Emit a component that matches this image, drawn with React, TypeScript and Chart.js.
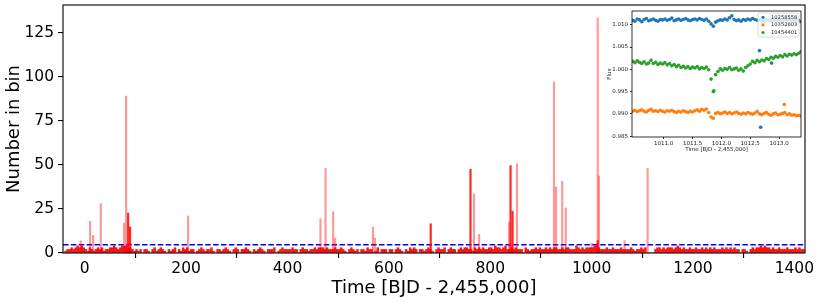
import React, { useEffect, useRef } from "react";
import { Chart, registerables } from "chart.js";
Chart.register(...registerables);

// ---------- main histogram data ----------
const BIN_START = -40;
const BIN_WIDTH = 4;
// counts per 4-day bin, -40 .. 1420
const noiseCounts = [
  "1223234343",
  "2132123231223343234443321",
  "2120221023123210212302132",
  "3122012321223102212321023",
  "2022321021232102223012322",
  "2232202322122323332322232",
  "2321023212022132201302220",
  "2202321021323202212321023",
  "2230232202323322132323223",
  "3243323422323222032122323",
  "2232323322323322243232333",
  "3443222322322232222321223",
  "2300002332323332343232232",
  "2322323232322232323232202",
  "2102323343433232232223222",
  "32322",
].join("");

// tall, pale spikes [time, count]
const spikesLight: [number, number][] = [
  [-8, 7], [10.5, 18], [16.4, 10], [31.6, 28], [77.5, 17], [81.5, 89],
  [203.8, 21], [465, 19.5], [475, 48], [490, 23.5], [494, 8.5],
  [568.6, 14.6], [572.6, 8.5], [768, 33.5], [778, 10.6], [837, 17.6],
  [852.7, 50.6], [925.8, 97], [929.8, 37.5], [942, 40.7], [949, 25.6],
  [1000, 5.7], [1012, 133.5], [1014.6, 43.7], [1065, 7], [1110.5, 48],
];
// darker spikes
const spikesDark: [number, number][] = [
  [85.5, 22.7], [89.4, 14.8], [682.5, 16.6], [761, 47.5], [840, 49.6],
  [844, 23.7], [1012, 7],
];
const THRESHOLD = 4.7;
const xTicks = [0, 200, 400, 600, 800, 1000, 1200, 1400];
const yTicks = [0, 25, 50, 75, 100, 125];

// ---------- inset data ----------
const INSET_T0 = 1010.46;
const INSET_DT = 0.04;
const insetLabels = ["10258558", "10352603", "10454401"];
const fluxBlue = [
  1.0110, 1.0108, 1.0113, 1.0111, 1.0107, 1.0112, 1.0114, 1.0109, 1.0111, 1.0113, 1.0110, 1.0108, 1.0112, 1.0111,
  1.0113, 1.0110, 1.0112, 1.0115, 1.0109, 1.0111, 1.0113, 1.0110, 1.0112, 1.0114, 1.0111, 1.0109, 1.0112,
  1.0113, 1.0111, 1.0114, 1.0112, 1.0110, 1.0113, 1.0108, 1.0102, 1.0097, 1.0106, 1.0109, 1.0111,
  1.0110, 1.0113, 1.0111, 1.0116, 1.0120, 1.0112, 1.0109, 1.0111, 1.0108, 1.0112, 1.0110, 1.0113, 1.0111,
  1.0114, 1.0112, 1.0110, 1.0111, 1.0109, 1.0108, 1.0112, 1.0110, 1.0111, 1.0109, 1.0112, 1.0110,
  1.0111, 1.0109, 1.0112, 1.0110, 1.0113, 1.0111, 1.0109, 1.0112, 1.0110, 1.0107,
];
const fluxOrange = [
  0.9906, 0.9908, 0.9905, 0.9907, 0.9909, 0.9906, 0.9904, 0.9908, 0.9910, 0.9906, 0.9907, 0.9905, 0.9908, 0.9906,
  0.9904, 0.9907, 0.9906, 0.9908, 0.9905, 0.9903, 0.9906, 0.9904, 0.9907, 0.9905, 0.9903, 0.9906, 0.9904,
  0.9907, 0.9909, 0.9906, 0.9910, 0.9908, 0.9911, 0.9903, 0.9893, 0.9890, 0.9901, 0.9903, 0.9900,
  0.9902, 0.9904, 0.9901, 0.9903, 0.9900, 0.9902, 0.9904, 0.9901, 0.9899, 0.9902, 0.9900, 0.9903, 0.9901,
  0.9899, 0.9902, 0.9905, 0.9900, 0.9898, 0.9901, 0.9903, 0.9899, 0.9897, 0.9900, 0.9902, 0.9898,
  0.9899, 0.9901, 0.9903, 0.9898, 0.9900, 0.9897, 0.9898, 0.9896, 0.9897, 0.9895,
];
const fluxGreen = [
  1.0018, 1.0015, 1.0019, 1.0016, 1.0013, 1.0017, 1.0012, 1.0014, 1.0020, 1.0013, 1.0016, 1.0011, 1.0014, 1.0012,
  1.0015, 1.0010, 1.0013, 1.0008, 1.0011, 1.0006, 1.0009, 1.0004, 1.0007, 1.0003, 1.0006, 1.0002, 1.0005,
  1.0003, 1.0006, 1.0001, 1.0004, 1.0002, 1.0005, 0.9999, 0.9978, 0.9950, 0.9988, 0.9995, 1.0001,
  0.9998, 1.0002, 1.0000, 1.0004, 0.9999, 1.0001, 1.0003, 0.9998, 1.0001, 0.9996, 1.0004, 1.0008, 1.0012,
  1.0018, 1.0015, 1.0020, 1.0017, 1.0021, 1.0019, 1.0024, 1.0022, 1.0027, 1.0025, 1.0029, 1.0027,
  1.0031, 1.0028, 1.0033, 1.0030, 1.0034, 1.0032, 1.0035, 1.0033, 1.0036, 1.0040,
];
const outliersBlue: [number, number][] = [[1012.66, 1.0042], [1012.68, 0.9870], [1012.87, 1.0014]];
const outliersOrange: [number, number][] = [[1013.09, 0.9921]];
const outliersGreen: [number, number][] = [[1011.87, 0.9952]];
const insetXTicks = [1011.0, 1011.5, 1012.0, 1012.5, 1013.0];
const insetYTicks = [0.985, 0.99, 0.995, 1.0, 1.005, 1.01];
const insetColors = ["#1f77b4", "#ff7f0e", "#2ca02c"];

const FONT = "'DejaVu Sans', sans-serif";

const framePlugin = {
  id: "frame",
  afterDraw(chart: any) {
    const { ctx, chartArea } = chart;
    ctx.save();
    ctx.strokeStyle = "#000";
    ctx.lineWidth = chart.options.frameWidth || 1.1;
    ctx.strokeRect(chartArea.left, chartArea.top, chartArea.right - chartArea.left, chartArea.bottom - chartArea.top);
    ctx.restore();
  },
};

const insetLegendPlugin = {
  id: "insetLegend",
  afterDraw(chart: any) {
    const { ctx, chartArea } = chart;
    const w = 41, h = 24;
    const x = chartArea.right - w - 2;
    const y = chartArea.top + 2;
    ctx.save();
    ctx.fillStyle = "rgba(255,255,255,0.8)";
    ctx.strokeStyle = "rgba(204,204,204,0.9)";
    ctx.lineWidth = 0.8;
    ctx.beginPath();
    ctx.roundRect(x, y, w, h, 1.5);
    ctx.fill();
    ctx.stroke();
    ctx.font = `5.2px ${FONT}`;
    ctx.textBaseline = "middle";
    insetLabels.forEach((lab, i) => {
      const cy = y + 4.3 + i * 7.6;
      ctx.fillStyle = insetColors[i];
      ctx.beginPath();
      ctx.arc(x + 5, cy, 1.6, 0, Math.PI * 2);
      ctx.fill();
      ctx.fillStyle = "#222";
      ctx.fillText(lab, x + 13, cy);
    });
    ctx.restore();
  },
};

const noPadY = (w: number) => (s: any) => {
  s.width = w;
  s.paddingTop = 0;
  s.paddingBottom = 0;
};

export default function App() {
  const mainRef = useRef<HTMLCanvasElement>(null);
  const insetRef = useRef<HTMLCanvasElement>(null);

  useEffect(() => {
    const noiseData = noiseCounts.split("").map((c, i) => ({
      x: BIN_START + BIN_WIDTH * i + BIN_WIDTH / 2,
      y: Number(c),
    }));
    const tickFont = { family: FONT, size: 15.5 };
    const main = new Chart(mainRef.current!, {
      type: "bar",
      data: {
        datasets: [
          {
            type: "bar",
            data: noiseData,
            backgroundColor: "rgba(255,0,0,0.92)",
            barThickness: 1.8,
            grouped: false,
          } as any,
          {
            type: "bar",
            data: spikesLight.map(([x, y]) => ({ x, y })),
            backgroundColor: "rgba(255,0,0,0.4)",
            barThickness: 1.5,
            grouped: false,
          } as any,
          {
            type: "bar",
            data: spikesDark.map(([x, y]) => ({ x, y })),
            backgroundColor: "rgba(255,0,0,0.85)",
            barThickness: 1.5,
            grouped: false,
          } as any,
          {
            type: "line",
            data: [{ x: -43, y: THRESHOLD }, { x: 1421, y: THRESHOLD }],
            borderColor: "#0000ff",
            borderWidth: 1.4,
            borderDash: [5.5, 2.4],
            pointRadius: 0,
          } as any,
        ],
      },
      options: {
        animation: false,
        responsive: false,
        events: [],
        layout: { padding: { top: 5, right: 17, left: 0, bottom: 0 } },
        plugins: { legend: { display: false }, tooltip: { enabled: false } },
        scales: {
          x: {
            type: "linear",
            min: -43,
            max: 1421,
            offset: false,
            afterBuildTicks: (s: any) => { s.ticks = xTicks.map((v) => ({ value: v })); },
            afterFit: (s: any) => { s.height = 50; },
            grid: { display: true, drawOnChartArea: false, tickLength: 5, color: "#000", lineWidth: 1.1 },
            border: { display: false },
            ticks: { font: tickFont, color: "#000", padding: 2, maxRotation: 0, autoSkip: false, callback: (v: any) => String(v) },
            title: { display: true, text: "Time [BJD - 2,455,000]", font: { family: FONT, size: 18 }, color: "#000", padding: { top: 0, bottom: 4 } },
          },
          y: {
            type: "linear",
            min: 0,
            max: 140.7,
            afterBuildTicks: (s: any) => { s.ticks = yTicks.map((v) => ({ value: v })); },
            afterFit: noPadY(63),
            grid: { display: true, drawOnChartArea: false, tickLength: 5, color: "#000", lineWidth: 1.1 },
            border: { display: false },
            ticks: { font: tickFont, color: "#000", padding: 4, callback: (v: any) => String(v) },
            title: { display: true, text: "Number in bin", font: { family: FONT, size: 18 }, color: "#000", padding: { top: 4, bottom: 0 } },
          },
        },
      } as any,
      plugins: [framePlugin],
    });

    const series = [fluxBlue, fluxOrange, fluxGreen];
    const outs = [outliersBlue, outliersOrange, outliersGreen];
    const insetFont = { family: FONT, size: 5.5 };
    const inset = new Chart(insetRef.current!, {
      type: "scatter",
      data: {
        datasets: series.map((vals, k) => ({
          label: insetLabels[k],
          data: vals
            .map((v, i) => ({ x: INSET_T0 + INSET_DT * i, y: v }))
            .concat(outs[k].map(([x, y]) => ({ x, y }))),
          backgroundColor: insetColors[k],
          borderWidth: 0,
          pointRadius: 1.8,
        })),
      },
      options: {
        animation: false,
        responsive: false,
        events: [],
        layout: { padding: { top: 6, right: 3, left: 0, bottom: 0 } },
        plugins: { legend: { display: false }, tooltip: { enabled: false } },
        frameWidth: 0.8,
        scales: {
          x: {
            type: "linear",
            min: 1010.45,
            max: 1013.38,
            afterBuildTicks: (s: any) => { s.ticks = insetXTicks.map((v) => ({ value: v })); },
            afterFit: (s: any) => { s.height = 20; },
            grid: { display: true, drawOnChartArea: false, tickLength: 2, color: "#000", lineWidth: 0.8 },
            border: { display: false },
            ticks: { font: insetFont, color: "#222", padding: 1, maxRotation: 0, autoSkip: false, callback: (v: any) => Number(v).toFixed(1) },
            title: { display: true, text: "Time [BJD - 2,455,000]", font: insetFont, color: "#222", padding: { top: 0, bottom: 4 } },
          },
          y: {
            type: "linear",
            min: 0.9848,
            max: 1.0131,
            afterBuildTicks: (s: any) => { s.ticks = insetYTicks.map((v) => ({ value: v })); },
            afterFit: noPadY(32),
            grid: { display: true, drawOnChartArea: false, tickLength: 2, color: "#000", lineWidth: 0.8 },
            border: { display: false },
            ticks: { font: insetFont, color: "#222", padding: 2, callback: (v: any) => Number(v).toFixed(3) },
            title: { display: true, text: "Flux", font: insetFont, color: "#222", padding: { top: 6.5, bottom: 0 } },
          },
        },
      } as any,
      plugins: [framePlugin, insetLegendPlugin],
    });

    return () => {
      main.destroy();
      inset.destroy();
    };
  }, []);

  return (
    <div style={{ position: "fixed", left: 0, top: 0, width: 822, height: 303, background: "#fff" }}>
      <canvas ref={mainRef} width={822} height={303} style={{ position: "absolute", left: 0, top: 0, width: 822, height: 303 }} />
      <canvas ref={insetRef} width={205} height={152} style={{ position: "absolute", left: 600, top: 5, width: 205, height: 152 }} />
    </div>
  );
}
